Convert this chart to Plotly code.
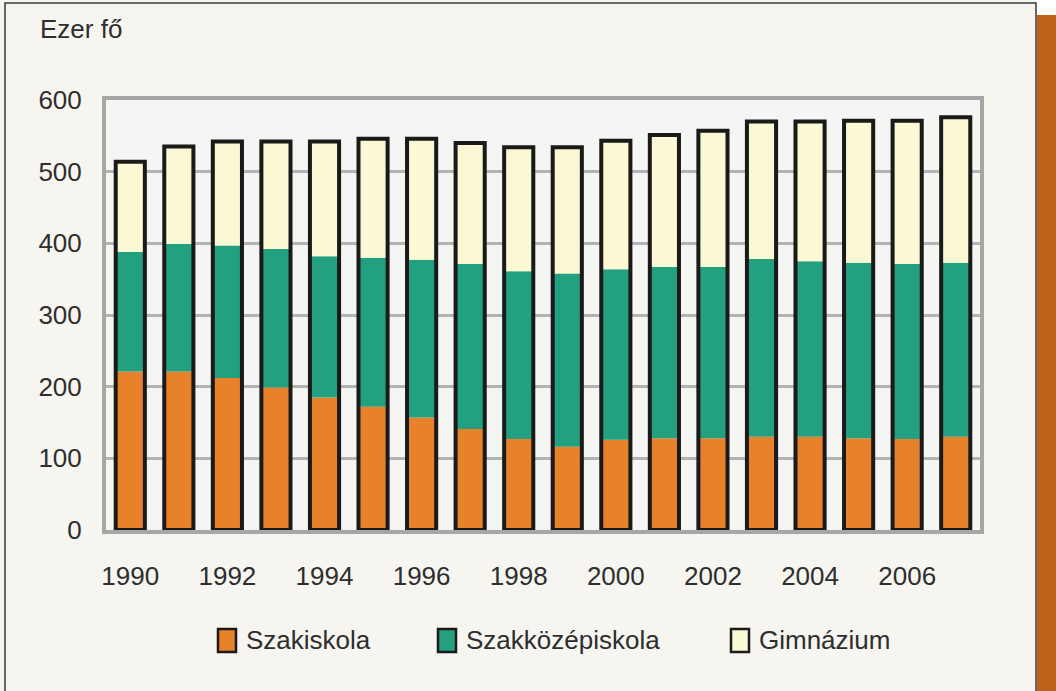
import plotly.graph_objects as go

years = list(range(1990, 2008))
szakiskola = [221, 221, 212, 199, 185, 172, 157, 141, 127, 116, 126, 128, 128, 130, 130, 128, 127, 130]
szakkozep = [167, 178, 185, 193, 197, 208, 220, 230, 234, 242, 238, 239, 239, 248, 245, 245, 244, 243]
gimnazium = [126, 136, 145, 150, 160, 166, 169, 169, 173, 176, 179, 184, 190, 192, 195, 198, 200, 203]
tick_years = years[::2]

names = ['Szakiskola', 'Szakközépiskola', 'Gimnázium']
colors = ['#e8822a', '#22a07f', '#fbf9d3']

FONT = 'Liberation Sans, Arial, sans-serif'
FSIZE = 26
TXT = '#2e2e2e'
BAR_W = 0.6

base_green = szakiskola
base_yellow = [a + b for a, b in zip(szakiskola, szakkozep)]
totals = [a + b for a, b in zip(base_yellow, gimnazium)]

fig = go.Figure()
for vals, base, name, col in zip([szakiskola, szakkozep, gimnazium],
                                 [[0] * len(years), base_green, base_yellow],
                                 names, colors):
    fig.add_trace(go.Bar(x=years, y=vals, base=base, name=name, width=BAR_W,
                         marker=dict(color=col, line=dict(width=0)),
                         showlegend=False))

# black outline round each whole column
fig.add_trace(go.Bar(x=years, y=totals, base=[0] * len(years), width=BAR_W,
                     marker=dict(color='rgba(0,0,0,0)', line=dict(color='#1a1a1a', width=4)),
                     showlegend=False, hoverinfo='skip'))


# pixel helpers for decoration (plot area 106..980 x, 100..530 y)
def px(x):
    return (x - 106) / 874


def py(y):
    return (530 - y) / 430


shapes = [
    # outer frame
    dict(type='rect', xref='paper', yref='paper', x0=px(5), x1=px(1036), y0=py(3), y1=py(720),
         line=dict(color='#3a3a3a', width=1.5), fillcolor='rgba(0,0,0,0)', layer='below'),
    # corner outside the frame
    dict(type='rect', xref='paper', yref='paper', x0=px(1037), x1=px(1070), y0=py(-10), y1=py(720),
         line=dict(width=0), fillcolor='#ffffff', layer='below'),
    # orange side stripe
    dict(type='rect', xref='paper', yref='paper', x0=px(1037), x1=px(1070), y0=py(15), y1=py(720),
         line=dict(width=0), fillcolor='#bd611b', layer='below'),
]

annotations = [
    dict(text='Ezer fő', xref='paper', yref='paper', x=px(38), y=py(29), xanchor='left', yanchor='middle',
         showarrow=False, font=dict(family=FONT, size=FSIZE, color=TXT)),
]

# legend swatches and labels
legend_pos = [(218, 244), (438, 464), (731, 757)]
for (sx, tx), name, col in zip(legend_pos, names, colors):
    shapes.append(dict(type='rect', xref='paper', yref='paper', x0=px(sx), x1=px(sx + 18),
                       y0=py(652), y1=py(629), fillcolor=col, line=dict(color='#1a1a1a', width=2.5)))
    annotations.append(dict(text=name, xref='paper', yref='paper', x=px(tx), y=py(640),
                            xanchor='left', yanchor='middle', showarrow=False,
                            font=dict(family=FONT, size=FSIZE, color=TXT)))

fig.update_layout(
    barmode='overlay',
    width=1056, height=691,
    margin=dict(l=106, r=76, t=100, b=161),
    paper_bgcolor='#f6f5f0',
    plot_bgcolor='#f5f5f3',
    font=dict(family=FONT, size=FSIZE, color=TXT),
    shapes=shapes,
    annotations=annotations,
    showlegend=False,
)
fig.update_xaxes(range=[1989.5, 2007.5], tickvals=tick_years, ticktext=[str(y) for y in tick_years],
                 showgrid=False, zeroline=False, showline=True, linecolor='#a6a6a6', linewidth=4,
                 mirror=True, ticks='outside', ticklen=20, tickcolor='rgba(0,0,0,0)')
fig.update_yaxes(range=[0, 600], dtick=100, showgrid=True, gridcolor='#b3b3b3', gridwidth=3,
                 zeroline=False, showline=True, linecolor='#a6a6a6', linewidth=4, mirror=True,
                 ticks='outside', ticklen=15, tickcolor='rgba(0,0,0,0)')

fig.write_html('out.html', config={'displayModeBar': False},
               post_script="document.body.style.margin='0';")
